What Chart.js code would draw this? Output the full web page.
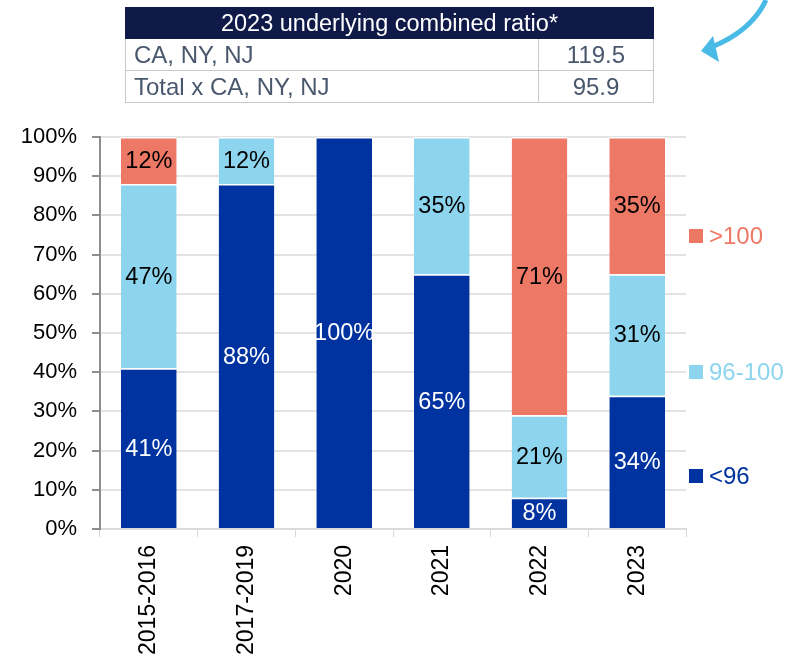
<!DOCTYPE html>
<html>
<head>
<meta charset="utf-8">
<script src="https://cdn.jsdelivr.net/npm/chart.js@4"></script>
<style>
  html, body { margin:0; padding:0; background:#fff; }
  #wrap { position:relative; width:796px; height:660px; font-family:"Liberation Sans", Arial, sans-serif; }
  #c { position:absolute; left:0; top:0; }
  table.t { position:absolute; left:125px; top:7px; width:529px; border-collapse:collapse; }
  table.t th { background:#0F1A48; color:#fff; font-weight:normal; font-size:23.5px; height:30px; line-height:28px; padding:0; text-align:center; border:1px solid #0F1A48; }
  table.t td { color:#4A586E; font-size:24px; height:31px; padding:0 0 0 8px; border:1.5px solid #C8C8C8; line-height:28px; }
  table.t td.v { text-align:center; width:114px; padding:0; }
  .lg { position:absolute; left:689px; font-size:24px; line-height:28px; display:flex; align-items:center; }
  .lg span.sq { display:inline-block; width:14px; height:14px; margin-right:6px; }
  svg.arrow { position:absolute; left:0; top:0; }
</style>
</head>
<body>
<div id="wrap">
  <canvas id="c" width="796" height="660"></canvas>
  <table class="t">
    <tr><th colspan="2">2023 underlying combined ratio*</th></tr>
    <tr><td>CA, NY, NJ</td><td class="v">119.5</td></tr>
    <tr><td>Total x CA, NY, NJ</td><td class="v">95.9</td></tr>
  </table>
  <div class="lg" style="top:222px;color:#EE7866"><span class="sq" style="background:#EE7866"></span>&gt;100</div>
  <div class="lg" style="top:358px;color:#8DD5EE"><span class="sq" style="background:#8DD5EE"></span>96-100</div>
  <div class="lg" style="top:462px;color:#0033A0"><span class="sq" style="background:#0033A0"></span>&lt;96</div>
  <svg class="arrow" width="796" height="660">
    <path d="M766 0 Q752 30 714 46" stroke="#49B9E6" stroke-width="5" fill="none"/>
    <polygon points="701,51 713,36 719,62" fill="#49B9E6"/>
  </svg>
</div>
<script>
const categories = ["2015-2016", "2017-2019", "2020", "2021", "2022", "2023"];
const below96 = [41, 88, 100, 65, 8, 34];
const mid96to100 = [47, 12, 0, 35, 21, 31];
const above100 = [12, 0, 0, 0, 71, 35];
const yTicks = [0, 10, 20, 30, 40, 50, 60, 70, 80, 90, 100];
const seriesNames = ["<96", "96-100", ">100"];

const labelPlugin = {
  id: 'segLabels',
  afterDatasetsDraw(chart) {
    const ctx = chart.ctx;
    ctx.save();
    ctx.font = '23.5px "Liberation Sans", Arial, sans-serif';
    ctx.textAlign = 'center';
    ctx.textBaseline = 'middle';
    chart.data.datasets.forEach((ds, di) => {
      const meta = chart.getDatasetMeta(di);
      meta.data.forEach((el, i) => {
        const v = ds.data[i];
        if (!v) return;
        const p = el.getProps(['x', 'y', 'base'], true);
        ctx.fillStyle = ds.labelColor;
        ctx.fillText(v + '%', p.x, (p.y + p.base) / 2 + 1);
      });
    });
    ctx.restore();
  }
};

const border = {top: 1.5, bottom: 0, left: 0, right: 0};
new Chart(document.getElementById('c'), {
  type: 'bar',
  data: {
    labels: categories,
    datasets: [
      {label: seriesNames[0], data: below96, backgroundColor: '#0033A0', borderColor: '#fff', borderWidth: border, borderSkipped: false, labelColor: '#fff'},
      {label: seriesNames[1], data: mid96to100, backgroundColor: '#8DD5EE', borderColor: '#fff', borderWidth: border, borderSkipped: false, labelColor: '#000'},
      {label: seriesNames[2], data: above100, backgroundColor: '#EE7866', borderColor: '#fff', borderWidth: border, borderSkipped: false, labelColor: '#000'}
    ]
  },
  options: {
    responsive: false,
    animation: false,
    devicePixelRatio: 1,
    layout: {padding: {top: 137, right: 110, left: 0, bottom: 0}},
    datasets: {bar: {categoryPercentage: 1, barPercentage: 0.57}},
    plugins: {legend: {display: false}, tooltip: {enabled: false}},
    scales: {
      x: {
        stacked: true,
        afterFit(s) { s.height = 131; },
        grid: {offset: true, drawOnChartArea: false, drawTicks: true, tickLength: 8, tickColor: '#D9D9D9'},
        border: {color: '#D9D9D9', width: 1.5},
        ticks: {color: '#000', font: {family: '"Liberation Sans", Arial, sans-serif', size: 23}, minRotation: 90, maxRotation: 90, padding: 8}
      },
      y: {
        stacked: true,
        min: 0, max: 100,
        afterFit(s) { s.width = 100; },
        afterBuildTicks(s) { s.ticks = yTicks.map(v => ({value: v})); },
        grid: {color: '#E3E3E3', lineWidth: 2, tickLength: 8, tickColor: '#8E8E8E'},
        border: {color: '#8E8E8E', width: 2},
        ticks: {color: '#000', font: {family: '"Liberation Sans", Arial, sans-serif', size: 22}, padding: 15, callback: v => v + '%'}
      }
    }
  },
  plugins: [labelPlugin]
});
</script>
</body>
</html>
